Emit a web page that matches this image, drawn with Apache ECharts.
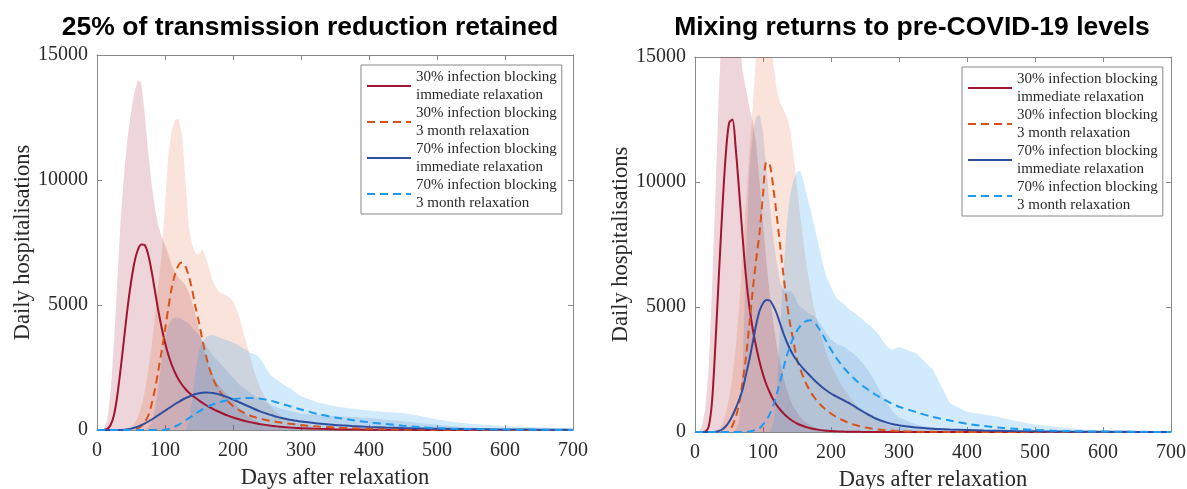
<!DOCTYPE html>
<html>
<head>
<meta charset="utf-8">
<script src="https://cdn.jsdelivr.net/npm/echarts@6/dist/echarts.min.js"></script>
<style>
html,body{margin:0;padding:0;background:#fff;}
#chart{width:1187px;height:489px;}
</style>
</head>
<body>
<div id="chart"></div>
<script>
// ---------- DATA ----------
const days = [
  0,5,10,15,20,25,30,35,40,45,
  50,55,60,65,70,75,80,85,90,95,
  100,105,110,115,120,125,130,135,140,145,
  150,155,160,165,170,175,180,185,190,195,
  200,205,210,215,220,225,230,235,240,245,
  250,255,260,265,270,275,280,285,290,295,
  300,325,350,375,400,425,450,475,500,525,550,575,600,625,650,675,700
];
const titles = ['25% of transmission reduction retained', 'Mixing returns to pre-COVID-19 levels'];
const seriesNames = [
  '30% infection blocking\nimmediate relaxation',
  '30% infection blocking\n3 month relaxation',
  '70% infection blocking\nimmediate relaxation',
  '70% infection blocking\n3 month relaxation'
];
const xTicks = [0,100,200,300,400,500,600,700];
const yTicks = [0,5000,10000,15000];

// Left panel: median lines
const L_red = [
  0,0,5,40,200,600,1400,2500,3700,4900,
  5900,6700,7200,7420,7400,7050,6400,5600,4800,4100,
  3500,3000,2600,2280,2020,1810,1640,1500,1380,1280,
  1180,1090,1000,920,850,780,720,660,600,550,
  500,460,420,380,345,315,285,260,235,215,
  195,175,160,145,130,118,106,96,87,78,
  70,45,30,20,13,9,6,4,3,2,1,1,0,0,0,0,0
];
const L_orange = [
  0,0,0,0,0,0,0,0,0,0,
  10,30,70,150,300,550,1000,1600,2350,3150,
  4000,4900,5700,6250,6600,6700,6550,6150,5600,4900,
  4300,3600,3000,2500,2100,1800,1570,1380,1220,1080,
  960,865,780,705,640,580,530,490,450,420,
  390,365,340,320,300,280,260,245,230,215,
  200,140,100,70,50,35,25,18,12,8,6,4,3,2,1,1,0
];
const L_blue = [
  0,0,0,0,0,0,0,5,15,30,
  55,90,135,190,255,330,410,500,590,680,
  770,860,950,1040,1120,1200,1270,1330,1390,1440,
  1470,1490,1500,1495,1480,1455,1420,1380,1330,1280,
  1220,1160,1100,1040,980,920,860,800,745,695,
  650,605,565,525,490,460,430,405,380,360,
  340,260,200,160,125,100,80,64,52,42,34,27,22,18,14,11,9
];
const L_lightblue = [
  0,0,0,0,0,0,0,0,0,0,
  0,0,0,0,0,0,0,0,0,0,
  10,40,80,140,210,290,380,470,560,650,
  740,820,890,960,1020,1070,1110,1150,1180,1210,
  1230,1250,1265,1275,1280,1280,1275,1265,1250,1230,
  1205,1175,1140,1100,1060,1020,980,940,900,860,
  820,640,500,400,310,240,170,115,75,50,35,25,18,12,8,5,3
];
// Left panel: upper bounds of the shaded intervals
const L_redBand = [
  0,0,50,400,1500,3500,6000,8500,10300,11700,
  12700,13500,14000,13900,12700,11200,9900,8900,8200,7750,
  7400,7000,6600,6300,6100,5950,5800,5500,5100,4600,
  4000,3400,2900,2500,2200,1950,1750,1600,1450,1300,
  1150,1000,850,720,600,500,420,350,290,240,
  200,170,140,120,100,85,70,60,50,40,
  30,15,8,4,2,0,0,0,0,0,0,0,0,0,0,0,0
];
const L_orangeBand = [
  0,0,0,0,0,0,0,0,0,0,
  100,250,500,900,1500,2300,3300,4500,5800,7000,
  9000,11000,12000,12400,12450,11800,10000,8100,7400,7050,
  7000,7250,6900,6450,6000,5700,5500,5450,5400,5300,
  5150,4850,4450,3950,3450,2950,2450,2050,1700,1400,
  1150,950,800,680,580,500,430,370,320,280,
  240,120,60,30,15,8,4,2,0,0,0,0,0,0,0,0,0
];
const L_blueBand = [
  0,0,0,0,0,0,0,0,0,0,
  0,0,0,0,0,100,300,800,1700,2800,
  3700,4200,4450,4500,4480,4420,4350,4250,4100,3950,
  3800,3600,3400,3200,3000,2850,2700,2550,2400,2250,
  2100,1950,1800,1700,1600,1500,1400,1300,1220,1150,
  1080,1020,960,910,860,820,780,750,720,690,
  660,600,560,520,480,420,350,280,210,150,100,70,50,35,25,15,10
];
const L_lightblueBand = [
  0,0,0,0,0,0,0,0,0,0,
  0,0,0,0,0,0,0,0,0,0,
  0,0,0,0,0,0,0,300,1200,2400,
  3200,3550,3700,3780,3800,3750,3700,3650,3600,3550,
  3500,3450,3350,3270,3200,3100,3050,3000,2850,2650,
  2400,2200,2100,2000,1900,1800,1720,1650,1550,1450,
  1350,1100,950,850,780,720,680,560,420,320,250,200,160,130,110,90,80
];

// Right panel: median lines
const R_red = [
  0,0,0,20,200,1200,3500,6200,8800,11000,
  12350,12500,11300,9600,7800,6200,5000,4100,3400,2800,
  2300,1900,1580,1300,1080,900,750,620,510,420,
  340,280,230,185,150,120,95,75,60,48,
  40,32,25,20,15,12,10,8,6,5,
  4,3,3,2,2,1,1,1,1,0,
  0,0,0,0,0,0,0,0,0,0,0,0,0,0,0,0,0
];
const R_orange = [
  0,0,0,0,0,0,0,0,0,0,
  0,250,600,1150,2000,3000,4300,5700,6900,8000,
  9500,10800,10700,9800,8700,7500,6300,5200,4300,3600,
  2900,2500,2150,1850,1600,1400,1230,1080,950,840,
  740,650,570,500,440,380,330,290,250,215,
  185,160,135,115,100,85,70,60,50,42,
  35,15,8,4,2,1,0,0,0,0,0,0,0,0,0,0,0
];
const R_blue = [
  0,0,0,0,0,0,10,40,100,220,
  400,650,950,1300,1700,2300,2900,3600,4300,4850,
  5150,5280,5260,5050,4750,4350,3950,3600,3300,3050,
  2850,2670,2510,2370,2230,2090,1960,1840,1730,1630,
  1540,1460,1390,1320,1250,1180,1100,1020,930,850,
  770,690,620,550,490,440,395,355,320,290,
  265,180,130,100,78,60,46,35,27,20,15,11,8,6,5,4,3
];
const R_lightblue = [
  0,0,0,0,0,0,0,0,0,0,
  0,0,0,0,0,10,25,50,90,150,
  300,480,720,1050,1500,2000,2550,3050,3450,3800,
  4050,4250,4380,4450,4470,4400,4230,4020,3780,3540,
  3300,3080,2880,2700,2530,2380,2240,2110,1990,1880,
  1780,1680,1590,1500,1420,1340,1270,1200,1130,1070,
  1010,800,600,460,330,240,170,120,80,55,38,26,18,12,8,5,3
];
// Right panel: upper bounds of the shaded intervals
const R_redBand = [
  0,0,200,900,2500,5700,9500,13500,16500,18000,
  18500,18200,17300,15800,14400,13700,13000,12400,11500,10000,
  8300,6800,5500,4400,3500,2800,2200,1700,1300,1000,
  800,600,450,350,270,200,150,110,80,60,
  40,30,20,15,10,5,0,0,0,0,
  0,0,0,0,0,0,0,0,0,0,
  0,0,0,0,0,0,0,0,0,0,0,0,0,0,0,0,0
];
const R_orangeBand = [
  0,0,0,0,0,0,0,100,300,700,
  1300,2200,3400,5000,7000,9200,11300,13000,15200,16500,
  17200,17000,16000,14800,13700,13200,12900,12600,12100,11000,
  9800,8600,7500,6500,5700,5000,4400,3900,3400,3000,
  2700,2400,2150,1900,1700,1500,1300,1150,1000,880,
  770,670,580,500,430,370,320,270,230,200,
  170,80,40,20,10,5,0,0,0,0,0,0,0,0,0,0,0
];
const R_blueBand = [
  0,0,0,0,0,0,0,0,0,0,
  0,0,100,400,2500,7000,10500,12000,12600,12700,
  12000,10500,9000,7800,6800,6000,5700,5600,5650,5500,
  5200,5000,4900,4800,4700,4650,4500,4300,4100,3900,
  3700,3600,3500,3450,3400,3300,3200,3100,2950,2800,
  2650,2450,2250,2000,1750,1500,1250,1050,850,700,
  580,300,180,120,80,60,45,30,20,15,10,8,5,3,2,1,0
];
const R_lightblueBand = [
  0,0,0,0,0,0,0,0,0,0,
  0,0,0,0,0,0,0,0,0,0,
  0,0,0,300,1500,4000,6300,8300,9500,10100,
  10400,10450,10000,9400,8900,8300,7700,7100,6500,6100,
  5800,5500,5300,5200,5100,4950,4850,4750,4650,4550,
  4400,4300,4200,4050,3900,3700,3500,3350,3300,3350,
  3400,3150,2500,1150,800,700,580,420,300,230,160,90,60,40,30,20,15
];

// ---------- STYLE ----------
const lineColors = ['#A2142F', '#D95319', '#2F4EA0', '#1E9BF0'];
const bandColors = ['rgba(162,20,47,0.18)', 'rgba(217,83,25,0.16)', 'rgba(47,78,160,0.15)', 'rgba(30,155,240,0.20)'];
const dashed = [false, true, false, true];
const axisGray = '#888888';
const labelColor = '#2a2a2a';
const serif = "'Liberation Serif', 'DejaVu Serif', serif";

function pairs(vals){ return days.map((d,i)=>[d, vals[i]]); }

const panels = [
  {lines:[L_red,L_orange,L_blue,L_lightblue], bands:[L_redBand,L_orangeBand,L_blueBand,L_lightblueBand]},
  {lines:[R_red,R_orange,R_blue,R_lightblue], bands:[R_redBand,R_orangeBand,R_blueBand,R_lightblueBand]}
];
const grids = [
  {left:97, top:55, width:476, height:375, containLabel:false, outerBoundsMode:'none'},
  {left:695, top:57, width:476, height:375, containLabel:false, outerBoundsMode:'none'}
];

function inTick(){ return {show:true, inside:true, length:5, lineStyle:{color:axisGray, width:1}}; }
function axLine(){ return {show:true, onZero:false, lineStyle:{color:axisGray, width:1}}; }
function plain(v){ return String(v); }

const xAxes = [], yAxes = [], series = [];
grids.forEach((g, gi) => {
  const xb = {gridIndex: gi, type:'value', min:xTicks[0], max:xTicks[xTicks.length-1], interval:100, splitLine:{show:false}};
  const yb = {gridIndex: gi, type:'value', min:yTicks[0], max:yTicks[yTicks.length-1], interval:5000, splitLine:{show:false}};
  xAxes.push(Object.assign({}, xb, {
    position:'bottom', axisLine:axLine(), axisTick:inTick(),
    axisLabel:{show:true, fontFamily:serif, fontSize:20, color:labelColor, margin:11, formatter:plain},
    name:'Days after relaxation', nameLocation:'middle', nameGap:37,
    nameTextStyle:{fontFamily:serif, fontSize:22.5, color:labelColor}
  }));
  xAxes.push(Object.assign({}, xb, {position:'top', axisLine:axLine(), axisTick:inTick(), axisLabel:{show:false}}));

  yAxes.push(Object.assign({}, yb, {
    position:'left', axisLine:axLine(), axisTick:inTick(),
    axisLabel:{show:true, fontFamily:serif, fontSize:20, color:labelColor, margin:9, formatter:plain},
    name:'Daily hospitalisations', nameLocation:'middle', nameGap:60, nameRotate:90,
    nameTextStyle:{fontFamily:serif, fontSize:22.5, color:labelColor}
  }));
  yAxes.push(Object.assign({}, yb, {position:'right', axisLine:axLine(), axisTick:inTick(), axisLabel:{show:false}}));

  const p = panels[gi];
  const xi = gi*2, yi = gi*2;
  p.bands.forEach((b, k) => {
    series.push({
      type:'line', name:'band'+gi+'_'+k, xAxisIndex:xi, yAxisIndex:yi,
      data:pairs(b), symbol:'none', silent:true, z:1,
      lineStyle:{width:0, opacity:0}, areaStyle:{color:bandColors[k], opacity:1},
      animation:false
    });
  });
  p.lines.forEach((l, k) => {
    series.push({
      type:'line', name:seriesNames[k], xAxisIndex:xi, yAxisIndex:yi,
      data:pairs(l), symbol:'none', showSymbol:false, smooth:0.3, z:3,
      itemStyle:{color:lineColors[k]},
      lineStyle:{color:lineColors[k], width:2, type: dashed[k] ? [8,5] : 'solid'},
      animation:false
    });
  });
});

const legendBase = {
  data: seriesNames, orient:'vertical', itemWidth:44, itemHeight:14, itemGap:0,
  padding:[3,5,2,5], backgroundColor:'#fff', borderColor:'#888888', borderWidth:1,
  selectedMode:false,
  itemStyle:{color:'rgba(0,0,0,0)', borderColor:'rgba(0,0,0,0)', borderWidth:0, opacity:0},
  textStyle:{fontFamily:serif, fontSize:15, lineHeight:18, color:labelColor}
};

const chart = echarts.init(document.getElementById('chart'), null, {renderer:'canvas'});
chart.setOption({
  backgroundColor:'#fff',
  animation:false,
  grid: grids,
  xAxis: xAxes,
  yAxis: yAxes,
  legend: [
    Object.assign({}, legendBase, {left:361, top:65}),
    Object.assign({}, legendBase, {left:962, top:67})
  ],
  graphic: [
    {type:'text', x:310, y:28, style:{text:titles[0], textAlign:'center', textVerticalAlign:'middle',
      font:"bold 26.5px 'Liberation Sans', Arial, sans-serif", fill:'#000'}},
    {type:'text', x:912, y:28, style:{text:titles[1], textAlign:'center', textVerticalAlign:'middle',
      font:"bold 26.5px 'Liberation Sans', Arial, sans-serif", fill:'#000'}}
  ],
  series: series
});
</script>
</body>
</html>
